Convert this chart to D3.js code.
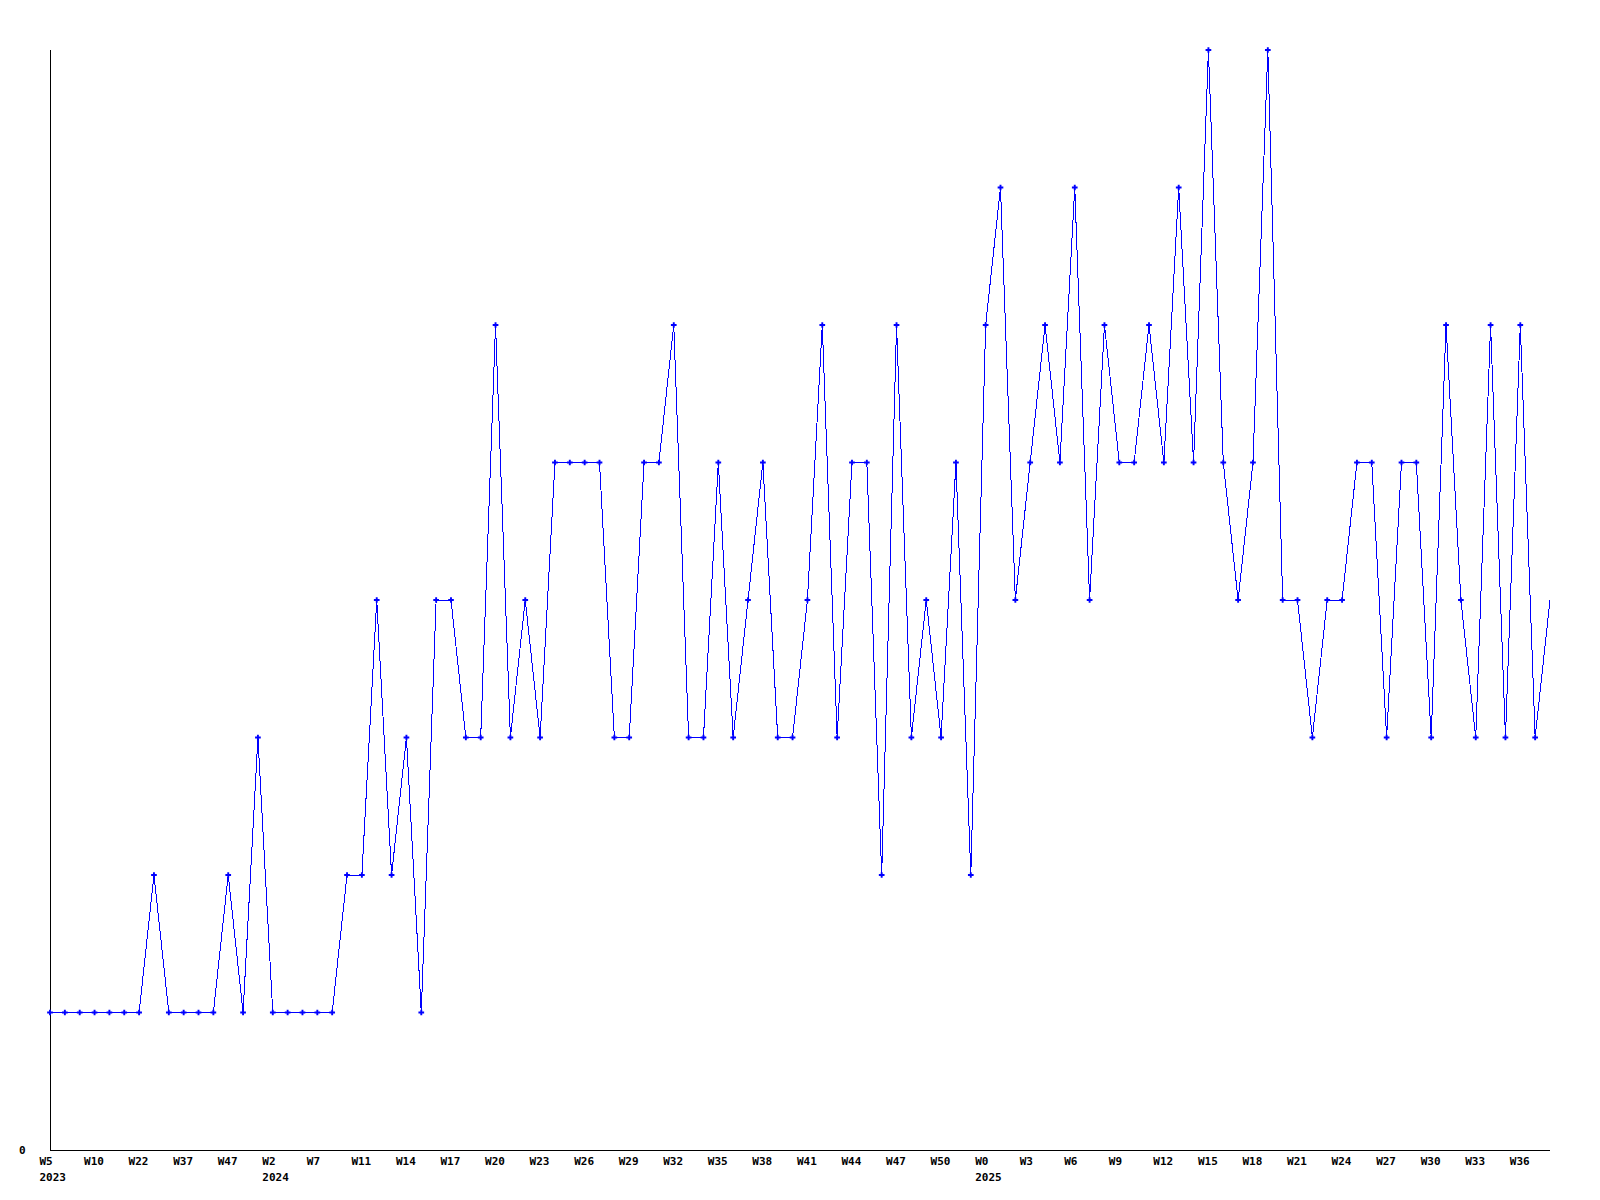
<!DOCTYPE html>
<html>
<head>
<meta charset="utf-8">
<script src="https://cdn.jsdelivr.net/npm/d3@7"></script>
<style>
    body { margin: 0; background: #fff; }
    svg text { font-family: "DejaVu Sans Mono", "Liberation Mono", monospace; font-weight: bold; font-size: 11px; fill: #000; }
</style>
</head>
<body>
<div id="chart"></div>
<script>
// one value per week
const values = [
    1, 1, 1, 1, 1, 1, 1, 2, 1, 1,
    1, 1, 2, 1, 3, 1, 1, 1, 1, 1,
    2, 2, 4, 2, 3, 1, 4, 4, 3, 3,
    6, 3, 4, 3, 5, 5, 5, 5, 3, 3,
    5, 5, 6, 3, 3, 5, 3, 4, 5, 3,
    3, 4, 6, 3, 5, 5, 2, 6, 3, 4,
    3, 5, 2, 6, 7, 4, 5, 6, 5, 7,
    4, 6, 5, 5, 6, 5, 7, 5, 8, 5,
    4, 5, 8, 4, 4, 3, 4, 4, 5, 5,
    3, 5, 5, 3, 6, 4, 3, 6, 3, 6,
    3, 4
];

// a label on every third week
const tickLabels = [
    "W5", "W10", "W22", "W37", "W47", "W2", "W7", "W11", "W14", "W17",
    "W20", "W23", "W26", "W29", "W32", "W35", "W38", "W41", "W44", "W47",
    "W50", "W0", "W3", "W6", "W9", "W12", "W15", "W18", "W21", "W24",
    "W27", "W30", "W33", "W36"
];
// year shown under the first label of each year
const yearLabels = { 0: "2023", 5: "2024", 21: "2025" };

const W = 1600, H = 1200;
const margin = {top: 50, right: 50, bottom: 50, left: 50};

const svg = d3.select("#chart").append("svg")
    .attr("width", W).attr("height", H);

const x = d3.scaleLinear().domain([0, values.length - 1]).range([margin.left, W - margin.right]);
const y = d3.scaleLinear().domain([0, 8]).range([H - margin.bottom, margin.top]);

// axes: plain lines
svg.append("line")
    .attr("x1", x(0)).attr("x2", x(0))
    .attr("y1", y(8)).attr("y2", y(0))
    .attr("stroke", "#000").attr("stroke-width", 1).attr("shape-rendering", "crispEdges");
svg.append("line")
    .attr("x1", x(0)).attr("x2", x(values.length - 1))
    .attr("y1", y(0)).attr("y2", y(0))
    .attr("stroke", "#000").attr("stroke-width", 1).attr("shape-rendering", "crispEdges");

svg.append("text").attr("x", 19).attr("y", y(0) + 4).text("0");

tickLabels.forEach((t, i) => {
    const px = x(i * 3) - 10.5;
    svg.append("text").attr("x", px).attr("y", 1165).text(t);
    if (yearLabels[i]) svg.append("text").attr("x", px).attr("y", 1181).text(yearLabels[i]);
});

// the series
svg.append("path").datum(values)
    .attr("d", d3.line().x((d, i) => x(i)).y(d => y(d)))
    .attr("fill", "none").attr("stroke", "#0000ff").attr("stroke-width", 1)
    .attr("shape-rendering", "crispEdges");

const marker = d3.symbol().type(d3.symbolCross).size(18);
svg.append("g").selectAll("path")
    .data(values.slice(0, values.length - 1))
    .join("path")
    .attr("transform", (d, i) => `translate(${x(i)},${y(d)})`)
    .attr("d", marker)
    .attr("fill", "#0000ff");
</script>
</body>
</html>
